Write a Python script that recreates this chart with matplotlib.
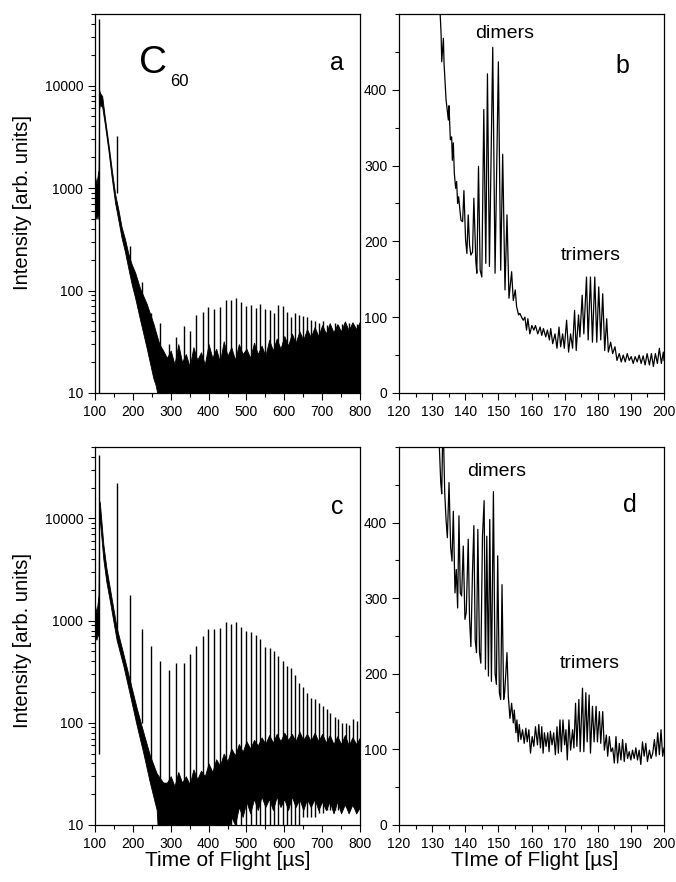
import matplotlib
matplotlib.use("Agg")
import matplotlib.pyplot as plt
from matplotlib.ticker import MultipleLocator, LogLocator, NullFormatter

plt.rcParams["font.family"] = ["Liberation Sans", "DejaVu Sans"]

# cluster peak positions (us), shared by panels a and c
cluster_t = [110, 157, 192, 223, 249, 273, 295, 315, 334, 352,
             368, 384, 399, 414, 430, 445, 459, 472, 485, 499,
             512, 525, 537, 549, 561, 573, 584, 596, 606, 617,
             628, 639, 650, 660, 671, 681, 692, 702, 713, 722,
             733, 742, 752, 762, 771, 781, 791]

# panel a
a_peak = [45000, 3200, 270, 120, 60, 48, 30, 35, 45, 40,
          58, 62, 69, 66, 69, 81, 80, 84, 78, 70,
          72, 68, 74, 66, 64, 60, 72, 70, 62, 55,
          60, 58, 56, 55, 52, 50, 48, 50, 46, 45,
          48, 46, 47, 45, 48, 46, 47]
a_base = [1, 900, 200, 85, 35] + [1] * 42
# noise band (decay + baseline)
a_band_t = [100, 104, 108, 109.5, 111, 113, 119, 126, 135, 144,
            153, 162, 170, 179, 188, 197, 206, 219, 236, 254] + \
           [260, 270, 280, 290, 300, 310, 320, 330, 340, 350,
            360, 370, 380, 390, 400, 410, 420, 430, 440, 450,
            460, 470, 480, 490, 500, 510, 520, 530, 540, 550,
            560, 570, 580, 590, 600, 610, 620, 630, 640, 650,
            660, 670, 680, 690, 700, 710, 720, 730, 740, 750,
            760, 770, 780, 790, 800]
a_band_hi = [1300, 1100, 1400, 1500, 9000, 8500, 7900, 4900, 2800, 1550,
             880, 610, 420, 320, 230, 180, 150, 105, 75, 48] + \
            [40, 30, 26, 22, 26, 19, 30, 20, 24, 18,
             28, 21, 25, 19, 30, 22, 27, 20, 32, 23,
             28, 21, 30, 24, 27, 22, 31, 24, 29, 23,
             33, 26, 34, 27, 36, 29, 38, 31, 40, 33,
             42, 35, 44, 36, 46, 38, 48, 39, 47, 40,
             50, 41, 49, 42, 50]
a_band_lo = [550, 500, 600, 500, 6000, 6500, 6200, 4200, 2400, 1280,
             720, 480, 330, 240, 165, 115, 85, 52, 28, 14] + \
            [12, 8] + [1] * 53

# panel c
c_peak = [42000, 22000, 1800, 830, 560, 400, 330, 385, 385, 470,
          560, 700, 830, 830, 850, 960, 930, 960, 860, 790,
          770, 720, 660, 550, 540, 510, 450, 400, 357, 345,
          295, 245, 225, 195, 175, 170, 155, 145, 135, 124,
          115, 110, 100, 100, 95, 110, 105]
c_base = [50, 700, 220, 100, 40, 18] + [1] * 21 + \
         [5, 8, 8, 10, 10, 12, 12, 12, 12, 13, 13, 14, 14, 14, 14, 15, 15, 15, 15, 15]
c_band_t = [100, 104, 108, 109.5, 111, 113, 122, 130, 140, 157,
            175, 192, 210, 228, 245, 263, 280] + \
           [290, 300, 310, 320, 330, 340, 350, 360, 370, 380,
            390, 400, 410, 420, 430, 440, 450, 460, 470, 480,
            490, 500, 510, 520, 530, 540, 550, 560, 570, 580,
            590, 600, 610, 620, 630, 640, 650, 660, 670, 680,
            690, 700, 710, 720, 730, 740, 750, 760, 770, 780,
            790, 800]
c_band_hi = [1400, 1200, 1600, 1800, 15000, 14000, 5600, 3300, 2000, 860,
             470, 260, 140, 80, 48, 32, 26] + \
            [26, 30, 24, 33, 26, 30, 25, 35, 28, 34,
             30, 40, 33, 44, 38, 50, 42, 56, 48, 62,
             52, 66, 56, 68, 60, 72, 62, 76, 64, 78,
             66, 80, 68, 78, 66, 82, 68, 78, 66, 80,
             66, 78, 64, 76, 62, 74, 62, 76, 60, 72,
             62, 72]
c_band_lo = [700, 650, 800, 700, 10000, 9500, 4000, 2400, 1500, 650,
             360, 190, 95, 50, 26, 14, 1] + [1] * 16 + \
            [8, 12, 10, 15, 12, 17, 13, 18, 14, 19,
             15, 18, 14, 19, 15, 18, 14, 19, 15, 18,
             14, 18, 15, 18, 14, 17, 14, 17, 13, 17,
             13, 16, 13, 16, 13, 15]

# panel b
b_t = [132.2, 132.7, 132.9, 133.4, 133.6, 134.2, 134.9, 135.1, 135.5, 135.9,
       136.1, 136.4, 136.7, 137.1, 137.4, 137.7, 138.0, 138.4, 138.7, 139.2,
       139.6, 140.1, 140.5, 140.9, 141.3, 141.7, 142.2, 142.6, 143.2, 143.5,
       144.0, 144.5, 145.0, 145.6, 146.2, 146.7, 147.3, 148.3, 149.0, 150.0,
       150.7, 151.3, 152.0, 152.6, 153.2, 154.0, 154.5, 155.1, 155.5, 156.1,
       156.5, 157.0, 157.5, 158.0, 158.5, 158.9, 159.5, 160.1, 160.7, 161.2,
       161.9, 162.6, 163.1, 163.6, 164.3, 164.8, 165.4, 165.8, 166.4, 167.1,
       167.7, 168.3, 168.8, 169.4, 169.9, 170.6, 171.2, 171.8, 172.4, 173.0,
       173.5, 174.2, 174.6, 175.3, 175.8, 176.6, 177.1, 177.8, 178.4, 179.1,
       179.7, 180.3, 180.9, 181.5, 182.1, 182.7, 183.2, 183.9, 184.5, 185.2,
       185.8, 186.5, 187.1, 187.7, 188.3, 188.9, 189.5, 190.1, 190.7, 191.3,
       191.9, 192.5, 193.1, 193.7, 194.3, 194.9, 195.6, 196.2, 196.8, 197.4,
       198.0, 198.6, 199.2, 199.8, 200.0]
b_y = [520, 475, 437, 468, 435, 387, 360, 379, 334, 338,
       307, 330, 290, 270, 279, 250, 259, 241, 228, 226,
       267, 202, 184, 235, 195, 182, 186, 257, 173, 158,
       299, 162, 153, 374, 171, 421, 167, 456, 158, 437,
       162, 315, 136, 235, 125, 160, 122, 136, 114, 103,
       105, 100, 96, 100, 83, 98, 78, 89, 83, 89,
       78, 87, 76, 85, 74, 83, 70, 85, 65, 78,
       59, 87, 61, 78, 59, 96, 54, 78, 59, 109,
       56, 103, 74, 129, 78, 153, 70, 153, 67, 153,
       67, 140, 70, 131, 56, 98, 54, 67, 52, 61,
       43, 52, 41, 50, 41, 52, 43, 48, 39, 48,
       41, 50, 39, 49, 37, 52, 37, 52, 35, 52,
       39, 59, 39, 54, 43]

# panel d
d_t = [132.0, 132.6, 132.9, 133.2, 133.4, 133.8, 134.2, 134.6, 135.1, 135.6,
       136.0, 136.4, 136.9, 137.3, 137.7, 138.1, 138.5, 138.9, 139.4, 139.9,
       140.3, 140.9, 141.3, 141.7, 142.2, 142.6, 143.0, 143.4, 143.8, 144.3,
       144.7, 145.2, 145.7, 146.1, 146.5, 147.0, 147.4, 147.9, 148.5, 149.0,
       149.4, 149.8, 150.3, 150.7, 151.1, 151.6, 151.9, 152.6, 153.0, 153.5,
       154.0, 154.5, 154.8, 155.3, 155.6, 156.0, 156.3, 156.8, 157.3, 157.8,
       158.3, 158.7, 159.2, 159.7, 160.2, 160.7, 161.2, 161.8, 162.2, 162.7,
       163.1, 163.5, 163.9, 164.4, 164.9, 165.3, 165.7, 166.2, 166.7, 167.2,
       167.7, 168.1, 168.6, 169.0, 169.5, 170.0, 170.4, 170.8, 171.3, 171.8,
       172.4, 172.8, 173.3, 173.7, 174.3, 174.7, 175.4, 175.8, 176.4, 176.8,
       177.4, 177.8, 178.4, 178.9, 179.5, 179.9, 180.5, 180.9, 181.5, 182.0,
       182.6, 183.0, 183.5, 184.0, 184.5, 185.0, 185.5, 186.0, 186.5, 187.0,
       187.5, 188.0, 188.5, 189.0, 189.5, 190.0, 190.5, 191.0, 191.5, 192.0,
       192.5, 193.0, 193.5, 194.0, 194.5, 195.0, 195.6, 196.1, 196.6, 197.1,
       197.6, 198.1, 198.6, 199.1, 199.6, 200.0]
d_y = [520, 453, 438, 520, 520, 440, 404, 380, 453, 367,
       349, 415, 307, 338, 287, 409, 307, 303, 369, 272,
       281, 378, 272, 236, 338, 396, 245, 228, 391, 228,
       214, 382, 429, 206, 382, 197, 404, 190, 441, 201,
       186, 356, 175, 166, 318, 166, 175, 228, 170, 141,
       161, 135, 152, 122, 139, 110, 133, 113, 126, 108,
       128, 110, 126, 95, 117, 104, 130, 106, 133, 102,
       130, 95, 122, 104, 122, 97, 124, 106, 122, 93,
       130, 95, 139, 97, 139, 106, 126, 86, 139, 99,
       126, 102, 161, 104, 166, 97, 181, 97, 175, 110,
       172, 95, 157, 110, 157, 110, 150, 108, 150, 99,
       119, 91, 117, 97, 102, 82, 117, 82, 108, 86,
       113, 84, 108, 88, 97, 86, 99, 88, 102, 86,
       99, 80, 110, 91, 108, 84, 99, 88, 95, 113,
       91, 122, 93, 126, 91, 102]

W, H = 676, 882
fig = plt.figure(figsize=(W / 100, H / 100), dpi=100)


def box(x0, y0, x1, y1):
    return [x0 / W, 1 - y1 / H, (x1 - x0) / W, (y1 - y0) / H]


ax_a = fig.add_axes(box(95, 14, 360, 393))
ax_b = fig.add_axes(box(399, 14, 664, 393))
ax_c = fig.add_axes(box(95, 447, 360, 825))
ax_d = fig.add_axes(box(399, 447, 664, 825))

for ax in (ax_a, ax_b, ax_c, ax_d):
    for s in ax.spines.values():
        s.set_linewidth(0.9)
    ax.tick_params(which="both", direction="out", top=False, right=False,
                   labelsize=10, width=0.8)
    ax.tick_params(which="major", length=5)
    ax.tick_params(which="minor", length=3)

# log panels
for ax, band_t, lo, hi, peak, base in (
        (ax_a, a_band_t, a_band_lo, a_band_hi, a_peak, a_base),
        (ax_c, c_band_t, c_band_lo, c_band_hi, c_peak, c_base)):
    ax.set_yscale("log")
    ax.fill_between(band_t, lo, hi, color="black", lw=0.6, edgecolor="black")
    ax.vlines(cluster_t, base, peak, color="black", lw=1.0)
    ax.set_xlim(100, 800)
    ax.set_ylim(10, 50000)
    ax.xaxis.set_major_locator(MultipleLocator(100))
    ax.xaxis.set_minor_locator(MultipleLocator(50))
    ax.set_yticks([10, 100, 1000, 10000], labels=["10", "100", "1000", "10000"])
    ax.yaxis.set_minor_locator(LogLocator(base=10, subs=range(2, 10)))
    ax.yaxis.set_minor_formatter(NullFormatter())

# linear panels
for ax, t, y in ((ax_b, b_t, b_y), (ax_d, d_t, d_y)):
    ax.plot(t, y, color="black", lw=0.9)
    ax.set_xlim(120, 200)
    ax.set_ylim(0, 500)
    ax.xaxis.set_major_locator(MultipleLocator(10))
    ax.xaxis.set_minor_locator(MultipleLocator(5))
    ax.yaxis.set_major_locator(MultipleLocator(100))
    ax.yaxis.set_minor_locator(MultipleLocator(50))
    ax.set_yticks([0, 100, 200, 300, 400])


def ftext(px, py, s, **kw):
    fig.text(px / W, 1 - py / H, s, ha="center", va="center", **kw)


ftext(153, 63, "C", fontsize=28)
ftext(179, 82, "60", fontsize=12)
ftext(337, 63, "a", fontsize=18)
ftext(622, 66, "b", fontsize=18)
ftext(337, 507, "c", fontsize=18)
ftext(630, 505, "d", fontsize=18)
ftext(505, 34, "dimers", fontsize=14)
ftext(591, 256, "trimers", fontsize=14)
ftext(497, 472, "dimers", fontsize=14)
ftext(590, 664, "trimers", fontsize=14)

ftext(23, 202, "Intensity [arb. units]", fontsize=14.5, rotation=90)
ftext(23, 640, "Intensity [arb. units]", fontsize=14.5, rotation=90)
ftext(228, 860, "Time of Flight [\u00b5s]", fontsize=15)
ftext(535, 860, "TIme of Flight [\u00b5s]", fontsize=15)

fig.savefig("out.png", dpi=100)
